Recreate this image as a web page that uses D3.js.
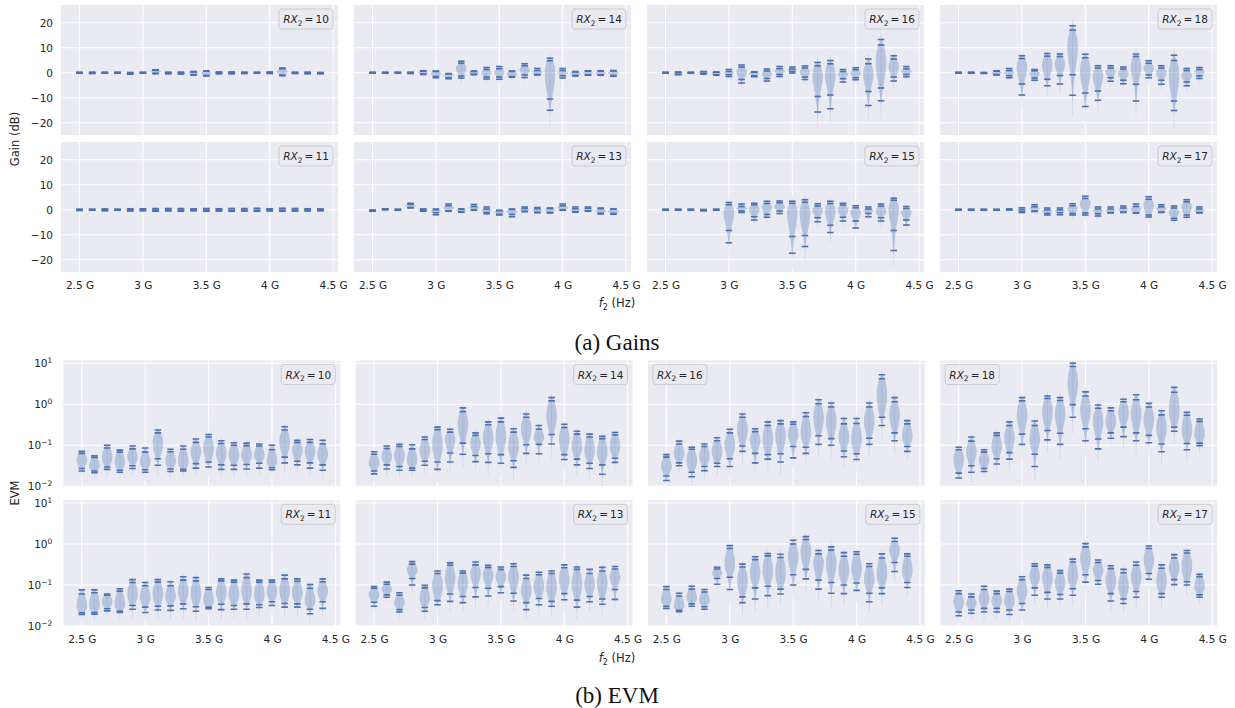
<!DOCTYPE html>
<html>
<head>
<meta charset="utf-8">
<script src="https://cdn.jsdelivr.net/npm/d3@7"></script>
<style>
body { margin: 0; background: #fff; }
text { font-family: "DejaVu Sans", sans-serif; fill: #262626; }
</style>
</head>
<body>
<svg id="mainsvg" width="1235" height="708"></svg>
<script>
// violin centres, f2 in GHz
const freqs = [2.5, 2.6, 2.7, 2.8, 2.9, 3.0, 3.1, 3.2, 3.3, 3.4, 3.5, 3.6, 3.7, 3.8, 3.9, 4.0, 4.1, 4.2, 4.3, 4.4];
const xTicks = [2.5, 3, 3.5, 4, 4.5];
const xTickLabels = ['2.5 G', '3 G', '3.5 G', '4 G', '4.5 G'];
const gainTicks = [-20, -10, 0, 10, 20];
const evmTicks = [-2, -1, 0, 1]; // exponents

const rxRows = [[10, 14, 16, 18], [11, 13, 15, 17]];
const evmLegendLeft = [16, 18];

// each violin: [low mark, low mark, widest point, high mark, high mark]
// gain in dB
const gainRx10 = [[-0.2,-0.1,0,0.1,0.2],[-0.3,-0.2,0,0.1,0.2],[-0.2,-0.1,0,0.1,0.2],[-0.2,-0.1,0,0.1,0.2],[-0.6,-0.4,-0.2,0,0.1],
  [-0.2,-0.1,0,0.1,0.2],[-0.4,-0.2,0.4,1.0,1.2],[-0.4,-0.3,0,0.1,0.2],[-0.5,-0.4,-0.1,0.1,0.2],[-1.0,-0.8,0,0.3,0.5],
  [-1.3,-1.1,0,0.6,0.8],[-0.4,-0.3,0,0.2,0.3],[-0.4,-0.3,0,0.2,0.3],[-0.3,-0.2,0,0.1,0.2],[-0.2,-0.1,0,0.1,0.2],
  [-0.3,-0.2,0,0.2,0.3],[-1.2,-0.9,0.5,1.6,1.9],[-0.3,-0.2,0,0.1,0.2],[-0.4,-0.3,0,0.1,0.2],[-0.4,-0.3,-0.1,0,0.1]];
const gainRx11 = [[-0.3,-0.2,0,0.1,0.2],[-0.2,-0.1,0,0.1,0.2],[-0.4,-0.3,0,0.2,0.3],[-0.2,-0.1,0,0.1,0.2],[-0.5,-0.3,0,0.2,0.4],
  [-0.4,-0.3,0,0.3,0.4],[-0.6,-0.4,0,0.3,0.5],[-0.5,-0.3,0,0.3,0.5],[-0.6,-0.4,0,0.3,0.5],[-0.4,-0.3,0,0.2,0.3],
  [-0.6,-0.4,0,0.3,0.5],[-0.5,-0.3,0,0.3,0.4],[-0.6,-0.4,0,0.4,0.5],[-0.5,-0.4,0,0.3,0.5],[-0.6,-0.4,0,0.4,0.6],
  [-0.5,-0.3,0,0.3,0.4],[-0.6,-0.4,0,0.4,0.6],[-0.5,-0.4,0,0.3,0.5],[-0.5,-0.3,0,0.3,0.4],[-0.4,-0.3,0,0.2,0.3]];
const gainRx14 = [[-0.2,-0.1,0,0.1,0.2],[-0.2,-0.1,0,0.1,0.2],[-0.2,-0.1,0,0.1,0.2],[-0.3,-0.2,0,0.1,0.2],[-0.7,-0.5,0.1,0.6,0.8],
  [-2.0,-1.5,-0.3,0.5,0.7],[-2.4,-2.0,-1,-0.5,-0.3],[-2.1,-1.3,2,3.8,4.6],[-0.8,-0.6,0,0.5,0.7],[-2.5,-1.7,0,1.3,2.1],
  [-2.6,-1.7,0,1.6,2.5],[-1.8,-1.5,-0.3,0.5,0.7],[-1.9,-0.9,1,2.8,3.6],[-0.9,-0.7,0.5,0.9,1.7],[-15,-10.5,0,4.8,5.8],
  [-2.1,-1.2,0,0.9,1.7],[-1.3,-1.1,-0.2,0.3,0.5],[-1.0,-0.8,0,0.6,0.8],[-1.0,-0.8,0,0.6,0.8],[-1.4,-1.1,0,0.7,0.9]];
const gainRx13 = [[-0.6,-0.5,-0.3,-0.2,-0.1],[0,0.1,0.2,0.3,0.4],[-0.2,-0.1,0,0.1,0.2],[0.7,0.9,1.5,2.2,2.6],[-0.6,-0.4,0,0.2,0.3],
  [-2.0,-1.2,-0.3,0,0.3],[-0.6,-0.4,0.8,1.6,2.3],[-1.0,-0.8,-0.2,0.2,0.3],[-0.2,0,0.8,1.3,2.1],[-1.6,-1.1,0,0.3,1.1],
  [-2.1,-1.8,-0.8,-0.4,-0.2],[-2.8,-1.9,-0.8,0.1,0.3],[-0.8,-0.6,0.2,0.5,1.1],[-1.2,-1.0,0,0.4,0.9],[-1.3,-1.1,0,0.5,0.7],
  [-0.2,0,1,1.6,2.3],[-1.0,-0.8,0,0.4,1.1],[-0.6,-0.4,0,0.6,1.1],[-1.7,-1.4,-0.3,0.4,0.7],[-1.8,-1.5,-0.5,0.2,0.4]];
const gainRx16 = [[-0.2,-0.1,0,0.1,0.2],[-0.8,-0.6,0,0.2,0.3],[-0.2,-0.1,0,0.1,0.2],[-0.6,-0.4,0,0.4,0.5],[-1.0,-0.8,0,0.2,0.3],
  [-1.5,-0.8,0,0.5,1.3],[-4.1,-2.7,0.5,2.3,3.1],[-1.6,-1.2,0,0.2,0.4],[-3.3,-2.3,0,0.7,1.5],[-1.5,-0.7,0.5,1.6,2.5],
  [-0.1,0.5,1,1.5,2.3],[-2.7,-1.7,0,1.9,2.7],[-15.7,-9.5,-1,2.8,4.1],[-14.4,-8.9,-1,3.6,4.9],[-3.7,-2.4,-0.3,0.5,1.3],
  [-2.8,-2.0,0,1.2,2.0],[-13.1,-7.5,-0.5,3.6,5.5],[-11.2,-6.1,4,11.1,13.3],[-3.3,-1.7,2.5,5.5,6.8],[-1.6,-0.7,0.5,1.6,2.5]];
const gainRx15 = [[-0.2,-0.1,0,0.1,0.2],[-0.2,-0.1,0,0.1,0.2],[-0.2,-0.1,0,0.1,0.2],[-0.4,-0.3,-0.1,0,0.1],[-0.2,-0.1,0,0.1,0.2],
  [-13.2,-8.3,-1,2.0,2.9],[-1.1,-0.5,0.5,1.3,2.3],[-4.1,-2.8,0,2.0,2.6],[-3.0,-1.9,1,2.5,3.4],[-1.5,-0.5,1,2.8,3.5],
  [-17.4,-10.7,-1,2.6,3.4],[-14.7,-10.3,-1,3.0,4.0],[-4.8,-3.2,0,1.5,2.4],[-9.1,-6.2,-0.5,2.5,3.4],[-4.5,-3.0,0,1.9,2.6],
  [-7.3,-4.5,-1,0.8,1.6],[-2.8,-1.5,0,0.3,1.1],[-4.5,-3.2,-0.5,1.5,2.3],[-16.3,-8.3,0.5,3.8,4.6],[-6.1,-4.1,-1,0.5,1.3]];
const gainRx18 = [[-0.2,-0.1,0,0.1,0.2],[-0.2,-0.1,0,0.1,0.2],[-0.3,-0.2,-0.05,0,0.1],[-0.9,-0.7,0,0.6,0.8],[-2.0,-1.2,0,0.9,1.7],
  [-8.9,-4.5,2,5.7,6.8],[-3.0,-2.1,0,0.8,1.3],[-5.2,-2.6,3,6.6,7.7],[-4.5,-1.1,3.5,6.5,7.5],[-9,-0.8,10,17.1,18.8],
  [-13.5,-8.1,1,6,7.4],[-11,-7.3,-1,1.9,2.8],[-3.4,-2.0,0.5,1.9,2.8],[-4.4,-3.0,0,1.5,2.3],[-11.3,-4.6,2,6.5,7.5],
  [-2.0,-0.9,2,3.8,4.8],[-4.6,-3.0,0,1.9,2.8],[-15.1,-11.3,0,4.9,7.0],[-5.2,-3.7,-1,0.9,1.7],[-2.3,-1.3,0.3,1.3,2.1]];
const gainRx17 = [[-0.2,-0.1,0,0.1,0.2],[-0.2,-0.1,0,0.1,0.2],[-0.2,-0.1,0,0.1,0.2],[-0.2,-0.1,0,0.1,0.15],[-0.1,0,0.1,0.2,0.3],
  [-1.1,-0.7,0,0.1,0.8],[-0.7,-0.5,0.5,1.2,2.0],[-2.1,-1.5,-0.3,0,0.7],[-2.0,-1.2,-0.3,0,0.7],[-2.1,-1.5,0.5,1.6,2.4],
  [-2.1,-1.3,3,4.5,5.4],[-2.5,-1.6,-0.3,0.3,1.1],[-1.3,-1.1,0,0.3,1.1],[-1.1,-0.9,0.3,0.7,1.5],[-1.4,-1.2,0.3,1.3,2.3],
  [-2.9,-2.1,2.5,4.2,5.2],[-1.1,-0.9,0.5,1.2,2.0],[-4.2,-3.4,-1,0.7,1.5],[-3.0,-2.1,1.5,3.2,4.0],[-1.3,-1.1,0,0.3,1.1]];

// EVM, stored as log10(EVM)
const evmRx10 = [[-1.63,-1.57,-1.37,-1.20,-1.15],[-1.67,-1.63,-1.53,-1.30,-1.26],[-1.59,-1.53,-1.29,-1.07,-1.00],[-1.66,-1.61,-1.41,-1.17,-1.12],[-1.57,-1.50,-1.29,-1.09,-1.02],
  [-1.66,-1.60,-1.41,-1.17,-1.07],[-1.49,-1.33,-0.92,-0.70,-0.63],[-1.64,-1.58,-1.39,-1.16,-1.10],[-1.63,-1.59,-1.41,-1.10,-1.02],[-1.56,-1.45,-1.16,-0.93,-0.85],
  [-1.53,-1.41,-1.08,-0.80,-0.74],[-1.59,-1.48,-1.20,-0.96,-0.89],[-1.59,-1.49,-1.25,-1.00,-0.94],[-1.58,-1.47,-1.25,-1.01,-0.95],[-1.56,-1.44,-1.25,-1.02,-0.97],
  [-1.60,-1.55,-1.41,-1.11,-1.00],[-1.43,-1.29,-0.92,-0.63,-0.55],[-1.48,-1.39,-1.12,-0.93,-0.88],[-1.56,-1.43,-1.16,-0.93,-0.86],[-1.61,-1.48,-1.23,-0.97,-0.88]];
const evmRx11 = [[-1.72,-1.68,-1.53,-1.22,-1.12],[-1.71,-1.67,-1.49,-1.19,-1.12],[-1.63,-1.58,-1.41,-1.25,-1.22],[-1.67,-1.64,-1.49,-1.15,-1.09],[-1.59,-1.50,-1.23,-0.94,-0.87],
  [-1.67,-1.54,-1.33,-1.02,-0.94],[-1.61,-1.52,-1.20,-0.93,-0.87],[-1.62,-1.51,-1.27,-1.02,-0.92],[-1.58,-1.46,-1.16,-0.88,-0.80],[-1.64,-1.53,-1.22,-0.90,-0.82],
  [-1.58,-1.54,-1.37,-1.11,-1.06],[-1.60,-1.47,-1.20,-0.90,-0.85],[-1.59,-1.50,-1.24,-0.93,-0.88],[-1.59,-1.46,-1.16,-0.82,-0.73],[-1.55,-1.48,-1.24,-0.93,-0.88],
  [-1.50,-1.41,-1.16,-0.93,-0.88],[-1.54,-1.45,-1.12,-0.85,-0.76],[-1.54,-1.46,-1.20,-0.91,-0.85],[-1.70,-1.59,-1.41,-1.08,-0.99],[-1.57,-1.41,-1.16,-0.92,-0.85]];
const evmRx14 = [[-1.70,-1.63,-1.45,-1.22,-1.16],[-1.58,-1.48,-1.29,-1.08,-1.02],[-1.61,-1.52,-1.25,-1.03,-0.98],[-1.61,-1.56,-1.37,-1.09,-0.99],[-1.49,-1.39,-1.16,-0.86,-0.80],
  [-1.59,-1.41,-1.00,-0.62,-0.56],[-1.41,-1.19,-0.84,-0.68,-0.61],[-1.22,-0.95,-0.47,-0.18,-0.09],[-1.40,-1.25,-0.96,-0.76,-0.70],[-1.42,-1.21,-0.84,-0.50,-0.43],
  [-1.44,-1.23,-0.80,-0.43,-0.34],[-1.54,-1.38,-1.04,-0.68,-0.60],[-1.20,-0.99,-0.59,-0.32,-0.24],[-1.21,-0.98,-0.84,-0.61,-0.52],[-0.97,-0.74,-0.30,0.08,0.16],
  [-1.35,-1.23,-0.84,-0.57,-0.49],[-1.48,-1.34,-1.04,-0.73,-0.66],[-1.57,-1.44,-1.16,-0.80,-0.73],[-1.71,-1.48,-1.20,-0.84,-0.78],[-1.42,-1.32,-1.04,-0.75,-0.69]];
const evmRx13 = [[-1.52,-1.42,-1.25,-1.08,-1.04],[-1.30,-1.24,-1.11,-0.98,-0.93],[-1.66,-1.60,-1.45,-1.25,-1.19],[-1.00,-0.84,-0.63,-0.49,-0.43],[-1.64,-1.55,-1.33,-1.07,-1.01],
  [-1.48,-1.38,-1.00,-0.72,-0.66],[-1.40,-1.22,-0.84,-0.52,-0.46],[-1.43,-1.28,-0.96,-0.71,-0.66],[-1.29,-1.06,-0.71,-0.51,-0.44],[-1.27,-1.08,-0.75,-0.57,-0.52],
  [-1.19,-1.04,-0.80,-0.62,-0.56],[-1.39,-1.20,-0.80,-0.55,-0.48],[-1.60,-1.43,-1.16,-0.84,-0.76],[-1.48,-1.33,-1.04,-0.75,-0.69],[-1.52,-1.40,-1.08,-0.72,-0.66],
  [-1.36,-1.21,-0.88,-0.58,-0.51],[-1.54,-1.37,-1.00,-0.62,-0.56],[-1.41,-1.28,-1.00,-0.72,-0.62],[-1.47,-1.34,-0.96,-0.66,-0.57],[-1.35,-1.11,-0.80,-0.61,-0.55]];
const evmRx16 = [[-1.86,-1.75,-1.53,-1.29,-1.23],[-1.50,-1.43,-1.20,-0.97,-0.90],[-1.77,-1.66,-1.41,-1.10,-1.05],[-1.62,-1.52,-1.29,-1.03,-0.97],[-1.52,-1.44,-1.16,-0.89,-0.82],
  [-1.52,-1.33,-1.00,-0.70,-0.61],[-1.15,-1.02,-0.59,-0.32,-0.24],[-1.43,-1.20,-0.88,-0.67,-0.60],[-1.34,-1.23,-0.84,-0.52,-0.43],[-1.41,-1.21,-0.75,-0.48,-0.40],
  [-1.31,-1.03,-0.75,-0.49,-0.43],[-1.20,-1.05,-0.71,-0.30,-0.21],[-0.98,-0.77,-0.34,0.01,0.11],[-1.00,-0.84,-0.43,-0.07,0.03],[-1.28,-1.14,-0.80,-0.48,-0.35],
  [-1.35,-1.21,-0.88,-0.47,-0.35],[-0.98,-0.83,-0.43,-0.07,0.03],[-0.52,-0.32,0.23,0.62,0.72],[-0.89,-0.70,-0.26,0.06,0.16],[-1.15,-1.03,-0.80,-0.48,-0.40]];
const evmRx15 = [[-1.57,-1.52,-1.37,-1.11,-1.04],[-1.65,-1.62,-1.53,-1.27,-1.20],[-1.52,-1.46,-1.33,-1.10,-1.03],[-1.59,-1.53,-1.39,-1.17,-1.11],[-0.98,-0.84,-0.71,-0.61,-0.57],
  [-1.11,-0.81,-0.51,-0.11,-0.04],[-1.43,-1.29,-0.92,-0.56,-0.49],[-1.34,-1.07,-0.71,-0.38,-0.31],[-1.26,-1.03,-0.67,-0.29,-0.23],[-1.22,-1.10,-0.71,-0.33,-0.25],
  [-1.00,-0.75,-0.30,0.00,0.09],[-0.85,-0.62,-0.18,0.11,0.18],[-1.10,-0.88,-0.43,-0.24,-0.16],[-1.20,-0.94,-0.47,-0.15,-0.07],[-1.21,-1.00,-0.67,-0.30,-0.21],
  [-1.13,-0.95,-0.63,-0.25,-0.19],[-1.41,-1.20,-0.88,-0.55,-0.48],[-1.21,-1.07,-0.75,-0.34,-0.24],[-0.67,-0.45,-0.14,0.06,0.14],[-1.06,-0.94,-0.67,-0.30,-0.24]];
const evmRx18 = [[-1.80,-1.68,-1.33,-1.11,-1.05],[-1.66,-1.50,-1.16,-0.90,-0.80],[-1.64,-1.57,-1.39,-1.17,-1.11],[-1.46,-1.33,-1.04,-0.76,-0.70],[-1.34,-1.18,-0.84,-0.52,-0.43],
  [-0.98,-0.73,-0.26,0.08,0.16],[-1.52,-1.22,-0.88,-0.52,-0.41],[-0.87,-0.64,-0.18,0.14,0.20],[-0.98,-0.71,-0.26,0.09,0.16],[-0.32,-0.01,0.48,0.92,1.00],
  [-0.89,-0.60,-0.14,0.20,0.30],[-1.09,-0.85,-0.43,-0.10,-0.02],[-0.83,-0.70,-0.43,-0.16,-0.09],[-0.79,-0.56,-0.22,0.06,0.12],[-0.89,-0.70,-0.22,0.11,0.23],
  [-0.94,-0.76,-0.39,-0.07,0.02],[-1.16,-0.97,-0.59,-0.26,-0.16],[-0.66,-0.56,-0.14,0.29,0.41],[-1.11,-0.96,-0.67,-0.27,-0.20],[-1.01,-0.95,-0.75,-0.42,-0.36]];
const evmRx17 = [[-1.75,-1.66,-1.41,-1.21,-1.14],[-1.69,-1.61,-1.45,-1.29,-1.22],[-1.66,-1.57,-1.33,-1.11,-1.03],[-1.66,-1.57,-1.41,-1.21,-1.15],[-1.72,-1.61,-1.41,-1.16,-1.10],
  [-1.61,-1.45,-1.16,-0.87,-0.80],[-1.25,-1.07,-0.80,-0.54,-0.48],[-1.34,-1.18,-0.84,-0.57,-0.51],[-1.34,-1.23,-0.96,-0.71,-0.65],[-1.25,-1.09,-0.80,-0.44,-0.37],
  [-0.93,-0.75,-0.34,-0.07,0.01],[-0.98,-0.89,-0.63,-0.45,-0.39],[-1.39,-1.21,-0.92,-0.60,-0.53],[-1.45,-1.34,-1.04,-0.70,-0.62],[-1.30,-1.16,-0.80,-0.52,-0.44],
  [-0.86,-0.72,-0.39,-0.11,-0.05],[-1.30,-1.21,-0.92,-0.59,-0.51],[-0.99,-0.87,-0.59,-0.34,-0.26],[-1.00,-0.92,-0.51,-0.22,-0.16],[-1.30,-1.24,-1.04,-0.80,-0.74]];

const gainData = {10: gainRx10, 11: gainRx11, 13: gainRx13, 14: gainRx14, 15: gainRx15, 16: gainRx16, 17: gainRx17, 18: gainRx18};
const evmData = {10: evmRx10, 11: evmRx11, 13: evmRx13, 14: evmRx14, 15: evmRx15, 16: evmRx16, 17: evmRx17, 18: evmRx18};

let svg = d3.select('#mainsvg');
const pw = 277;
const blue = '#4c72b0';
let clipCount = 0;

const x = d3.scaleLinear().domain([2.354, 4.539]).range([0, pw]);

function drawPanel(g, ph, y, yv, rows, rx, legendLeft) {
    g.append('rect').attr('width', pw).attr('height', ph).attr('fill', '#eaeaf2');

    g.selectAll('.vgrid').data(xTicks).enter().append('line')
    .attr('x1', d => x(d)).attr('x2', d => x(d))
    .attr('y1', 0).attr('y2', ph)
    .attr('stroke', '#fff').attr('stroke-width', 1.1);
    g.selectAll('.hgrid').data(y.ticksUsed).enter().append('line')
    .attr('x1', 0).attr('x2', pw)
    .attr('y1', d => y(d)).attr('y2', d => y(d))
    .attr('stroke', '#fff').attr('stroke-width', 1.1);

    const id = 'clip' + (clipCount++);
    g.append('clipPath').attr('id', id).append('rect').attr('width', pw).attr('height', ph);
    const body = g.append('g').attr('clip-path', `url(#${id})`);

    const half = x(2.5 + 0.042) - x(2.5);
    const markHalf = x(2.5 + 0.026) - x(2.5);
    const area = d3.area()
    .y(d => y(yv(d[0])))
    .x0(d => d.cx - d[1] * half)
    .x1(d => d.cx + d[1] * half)
    .curve(d3.curveMonotoneY);

    rows.forEach((q, i) => {
        const cx = x(freqs[i]);
        const r = q[4] - q[0];
        const pts = [[q[0] - 0.1 * r, 0], [q[0], 0.08], [q[1], 0.4], [q[2], 1],
                     [q[3], 0.5], [q[4], 0.15], [q[4] + 0.04 * r, 0]];
        pts.forEach(p => p.cx = cx);

        body.append('line')
        .attr('x1', cx).attr('x2', cx)
        .attr('y1', y(yv(q[0] - 0.3 * r))).attr('y2', y(yv(q[4] + 0.1 * r)))
        .attr('stroke', blue).attr('stroke-opacity', 0.12).attr('stroke-width', 1);

        body.append('path').attr('d', area(pts))
        .attr('fill', blue).attr('fill-opacity', 0.32);

        [q[0], q[1], q[3], q[4]].forEach(v => {
            body.append('line')
            .attr('x1', cx - markHalf).attr('x2', cx + markHalf)
            .attr('y1', y(yv(v))).attr('y2', y(yv(v)))
            .attr('stroke', blue).attr('stroke-width', 1.6);
        });
    });

    // legend box
    const bw = 54, bh = 20;
    const lg = g.append('g')
    .attr('transform', `translate(${legendLeft ? 5 : pw - 5 - bw},4)`);
    lg.append('rect').attr('width', bw).attr('height', bh).attr('rx', 3)
    .attr('fill', '#eaeaf2').attr('fill-opacity', 0.8)
    .attr('stroke', '#cccccc').attr('stroke-width', 1);
    const t = lg.append('text').attr('x', bw / 2).attr('y', 14)
    .attr('text-anchor', 'middle').attr('font-size', 10.5);
    t.append('tspan').attr('font-style', 'italic').text('RX');
    t.append('tspan').attr('font-size', 7.5).attr('dy', 2.5).text('2');
    t.append('tspan').attr('dy', -2.5).text('\u2009=\u2009' + rx);
}

function drawSection(cfg) {
    cfg.rowTop.forEach((top, ri) => {
        const y = cfg.makeY();
        rxRows[ri].forEach((rx, ci) => {
            const g = svg.append('g').attr('transform', `translate(${cfg.colLeft[ci]},${top})`);
            drawPanel(g, cfg.ph, y, cfg.yv, cfg.data[rx], rx, cfg.legendLeft.includes(rx));

            if (ci === 0) {
                const ax = g.append('g').call(d3.axisLeft(y).tickValues(y.ticksUsed).tickSize(0).tickPadding(cfg.yPad).tickFormat(cfg.yFormat));
                ax.select('.domain').remove();
                ax.selectAll('text').attr('font-size', 10.5).attr('fill', '#262626');
                if (cfg.superscript) {
                    ax.selectAll('.tick text').each(function(d) {
                        const el = d3.select(this);
                        const e = Math.round(Math.log10(d));
                        el.text('10');
                        el.append('tspan').attr('dy', '-0.5em').attr('font-size', 7.5)
                        .text(e < 0 ? '\u2212' + Math.abs(e) : e);
                    });
                }
            }
            if (ri === 1) {
                const ax = g.append('g').attr('transform', `translate(0,${cfg.ph})`)
                .call(d3.axisBottom(x).tickValues(xTicks).tickSize(0).tickPadding(cfg.xPad)
                .tickFormat((d, i) => xTickLabels[i]));
                ax.select('.domain').remove();
                ax.selectAll('text').attr('font-size', 10.5).attr('fill', '#262626');
            }
        });
    });

    // shared labels
    svg.append('text').attr('transform', `translate(19,${cfg.yLabelY}) rotate(-90)`)
    .attr('text-anchor', 'middle').attr('font-size', 11.5).text(cfg.yLabel);

    const fl = svg.append('text').attr('x', 617).attr('y', cfg.xLabelY)
    .attr('text-anchor', 'middle').attr('font-size', 11.5);
    fl.append('tspan').attr('font-style', 'italic').text('f');
    fl.append('tspan').attr('font-size', 8).attr('dy', 3).text('2');
    fl.append('tspan').attr('dy', -3).text(' (Hz)');

    svg.append('text').attr('x', 617).attr('y', cfg.captionY)
    .attr('text-anchor', 'middle').attr('font-size', 23)
    .style('font-family', '"Liberation Serif", "Times New Roman", serif')
    .style('fill', '#111')
    .text(cfg.caption);
}

drawSection({
    colLeft: [61, 354, 647, 940], rowTop: [5, 142], ph: 130,
    makeY: () => { const y = d3.scaleLinear().domain([-24.9, 27.1]).range([130, 0]); y.ticksUsed = gainTicks; return y; },
    yv: v => v, data: gainData, legendLeft: [],
    yPad: 8, xPad: 10, yFormat: d => d < 0 ? '\u2212' + Math.abs(d) : d,
    yLabel: 'Gain (dB)', yLabelY: 139, xLabelY: 307, caption: '(a) Gains', captionY: 350
});

drawSection({
    colLeft: [63.3, 355.6, 647.9, 940.2], rowTop: [360.5, 500.3], ph: 125.7,
    makeY: () => { const y = d3.scaleLog().domain([0.01, 11.64]).range([125.7, 0]); y.ticksUsed = evmTicks.map(e => Math.pow(10, e)); return y; },
    yv: v => Math.pow(10, v), data: evmData, legendLeft: evmLegendLeft,
    yPad: 11, xPad: 9.5, yFormat: d => d, superscript: true,
    yLabel: 'EVM', yLabelY: 493, xLabelY: 662, caption: '(b) EVM', captionY: 703
});
</script>
</body>
</html>
